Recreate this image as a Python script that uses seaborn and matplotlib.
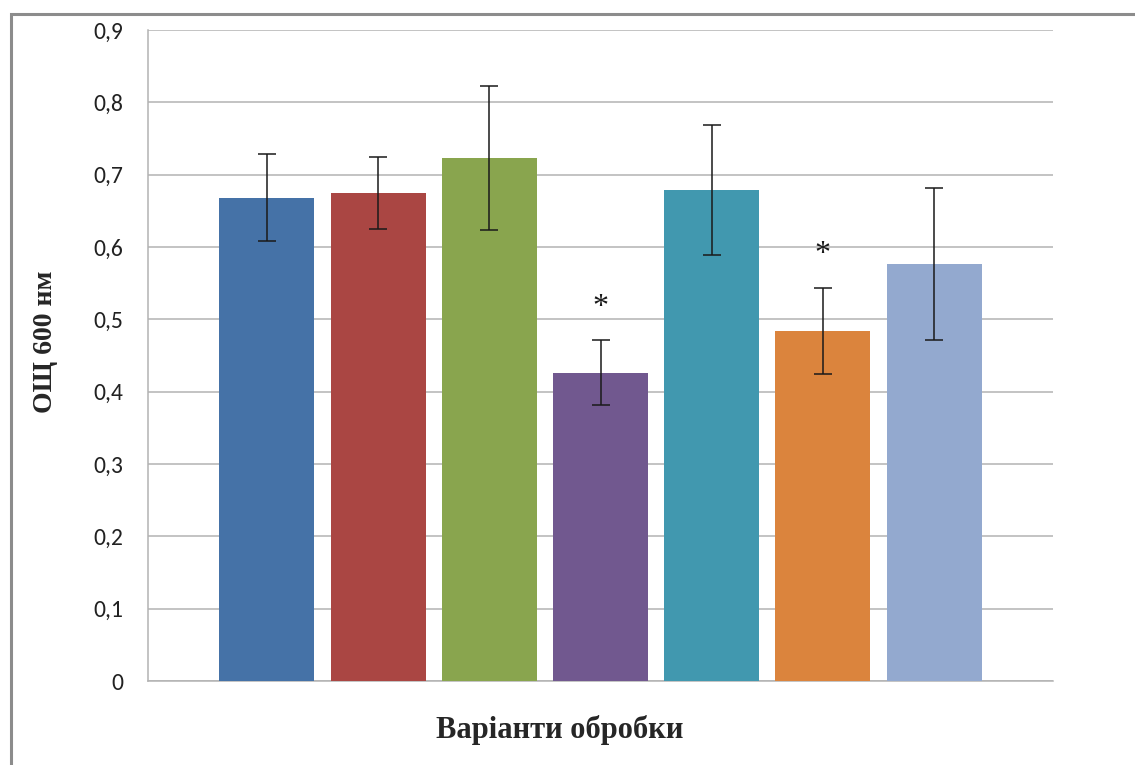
import matplotlib
matplotlib.use("Agg")
import matplotlib.pyplot as plt
import seaborn as sns
import pandas as pd
import numpy as np
from matplotlib.patches import Rectangle

categories = ["1", "2", "3", "4", "5", "6", "7"]
values = [0.668, 0.675, 0.723, 0.426, 0.679, 0.484, 0.577]
errors = [0.060, 0.050, 0.100, 0.045, 0.090, 0.060, 0.105]
significant = [False, False, False, True, False, True, False]
colors = ["#4572A7", "#AA4643", "#89A54E", "#71588F", "#4198AF", "#DB843D", "#93A9CF"]
yticks = [0, 0.1, 0.2, 0.3, 0.4, 0.5, 0.6, 0.7, 0.8, 0.9]
ytick_labels = ["0", "0,1", "0,2", "0,3", "0,4", "0,5", "0,6", "0,7", "0,8", "0,9"]

sns.set_style("white")
plt.rcParams["font.family"] = ["Carlito", "DejaVu Sans"]

df = pd.DataFrame({"cat": categories, "val": values})

fig = plt.figure(figsize=(11.35, 7.65), dpi=100)
ax = fig.add_axes([148 / 1135, 1 - 681 / 765, (1053 - 148) / 1135, (681 - 30) / 765])

sns.barplot(data=df, x="cat", y="val", hue="cat", palette=colors, order=categories,
            hue_order=categories, dodge=False, width=0.855, errorbar=None, legend=False,
            saturation=1, ax=ax, zorder=3, linewidth=0)

x = np.arange(len(categories))
ax.errorbar(x, values, yerr=errors, fmt="none", ecolor="#1a1a1a", elinewidth=1.1,
            capsize=6.5, capthick=1.1, zorder=4)

for xi, v, e, s in zip(x, values, errors, significant):
    if s:
        ax.text(xi, v + e + 0.026, "*", ha="center", va="bottom", fontsize=23,
                family=["Liberation Serif"], color="#1a1a1a", zorder=5)

ax.set_xlim(-1.07, len(categories) - 1 + 1.07)
ax.set_ylim(0, 0.9)
ax.set_yticks(yticks)
ax.set_yticklabels(ytick_labels, fontsize=17, color="#222222")
ax.set_xticks([])
ax.yaxis.grid(True, color="#b3b3b3", linewidth=1.1, zorder=0)
ax.set_axisbelow(True)
ax.tick_params(axis="y", length=0, pad=18)
for side in ["top", "right"]:
    ax.spines[side].set_visible(False)
for side in ["left", "bottom"]:
    ax.spines[side].set_color("#b3b3b3")
    ax.spines[side].set_linewidth(1.1)

ax.set_xlabel("Варіанти обробки", fontsize=22, fontweight="bold",
              family=["Liberation Serif"], labelpad=28)
ax.xaxis.set_label_coords((560 - 148) / 905, -(730 - 681) / 651)
ax.xaxis.label.set_va("center")
ax.set_ylabel("ОЩ 600 нм", fontsize=20, fontweight="bold",
              family=["Liberation Serif"])
ax.yaxis.set_label_coords(-(148 - 46) / 905, (681 - 342) / 651)
ax.yaxis.label.set_va("center")

# outer chart frame
fig.patches.append(Rectangle((11 / 1135, -0.05), 1.2, 1 - 14 / 765 + 0.05,
                             transform=fig.transFigure, fill=False,
                             edgecolor="#8c8c8c", linewidth=2.2))

fig.savefig("out.png", dpi=100)
